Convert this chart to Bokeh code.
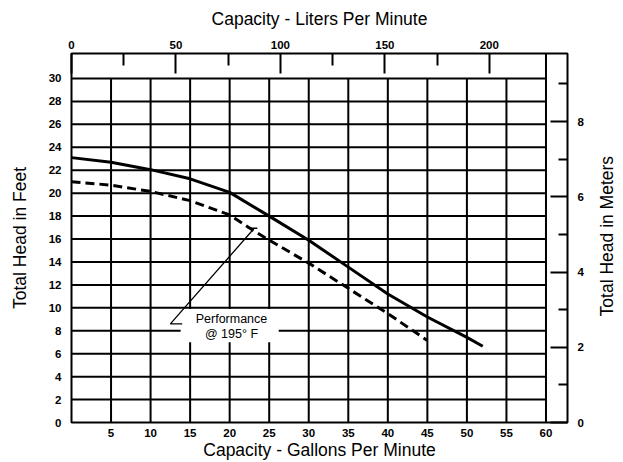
import math
from bokeh.plotting import figure
from bokeh.layouts import row
from bokeh.models import Range1d, LinearAxis, FixedTicker
from bokeh.embed import file_html
from bokeh.resources import INLINE
from bokeh.core.properties import value

# ---- data ----
gpm_ticks = [5, 10, 15, 20, 25, 30, 35, 40, 45, 50, 55, 60]
ft_ticks = [0, 2, 4, 6, 8, 10, 12, 14, 16, 18, 20, 22, 24, 26, 28, 30]
lpm_ticks = [0, 50, 100, 150, 200]
lpm_minor = [25, 75, 125, 175]
m_ticks = [0, 2, 4, 6, 8]
m_minor = [1, 3, 5, 7, 9]
grid_gpm = [5, 10, 15, 20, 25, 30, 35, 40, 45, 50, 55]
grid_ft = [2, 4, 6, 8, 10, 12, 14, 16, 18, 20, 22, 24, 26, 28, 30]

solid_gpm = [0, 5, 10, 15, 20, 25, 30, 35, 40, 45, 50, 52]
solid_ft = [23.1, 22.7, 22.05, 21.25, 20.07, 18.0, 15.9, 13.55, 11.2, 9.2, 7.42, 6.65]

dash_gpm = [0, 5, 10, 15, 20, 23, 25, 30, 35, 40, 45]
dash_ft = [21.0, 20.7, 20.15, 19.35, 18.1, 16.75, 15.9, 13.9, 11.7, 9.5, 7.15]

note_lines = ["Performance", "@ 195\u00b0 F"]
note_x = [20.23, 20.23]
note_y = [9.05, 7.74]
note_box = dict(left=[13.8], right=[26.2], bottom=[7.0], top=[9.9])
leader_x = [14.0, 12.5, 23.0]
leader_y = [8.6, 8.6, 16.85]
tip_x = [22.3, 23.5]
tip_y = [16.95, 16.95]

right_title = ["Total Head in Meters"]

GAL_TO_L = 3.7854
FT_TO_M = 0.3048
X_END = 62.72
Y_END = 32.18
FONT = "Liberation Sans"

p = figure(width=590, height=462, output_backend="svg", toolbar_location=None,
           x_range=Range1d(0, X_END), y_range=Range1d(0, Y_END),
           min_border_left=71, min_border_right=23, min_border_top=53, min_border_bottom=40)
p.extra_x_ranges = {"lpm": Range1d(0, X_END * GAL_TO_L)}
p.extra_y_ranges = {"m": Range1d(0, Y_END * FT_TO_M)}

p.background_fill_color = "white"
p.border_fill_color = "white"
p.outline_line_color = "black"
p.outline_line_width = 2
p.xgrid.visible = False
p.ygrid.visible = False


def style_axis(ax, title, bold=True):
    ax.axis_label = title
    ax.axis_line_color = None
    ax.major_tick_line_color = "black"
    ax.minor_tick_line_color = "black"
    ax.major_tick_line_width = 2
    ax.minor_tick_line_width = 2
    ax.major_tick_in = 0
    ax.major_tick_out = 0
    ax.minor_tick_in = 0
    ax.minor_tick_out = 0
    ax.major_label_text_font = FONT
    ax.major_label_text_font_size = "11.5px"
    ax.major_label_text_font_style = "bold" if bold else "normal"
    ax.major_label_text_color = "black"
    ax.axis_label_text_font = FONT
    ax.axis_label_text_font_size = "17.5px"
    ax.axis_label_text_font_style = "normal"
    ax.axis_label_text_color = "black"


xb = p.xaxis[0]
style_axis(xb, "Capacity - Gallons Per Minute")
xb.ticker = FixedTicker(ticks=gpm_ticks)
xb.major_label_standoff = 6
xb.axis_label_standoff = 0

yl = p.yaxis[0]
style_axis(yl, "Total Head in Feet")
yl.ticker = FixedTicker(ticks=ft_ticks)
yl.major_label_standoff = 10
yl.axis_label_standoff = 16

xt = LinearAxis(x_range_name="lpm")
style_axis(xt, "Capacity - Liters Per Minute")
xt.ticker = FixedTicker(ticks=lpm_ticks, minor_ticks=lpm_minor)
xt.major_tick_in = 20
xt.minor_tick_in = 12
xt.major_label_standoff = 5
xt.axis_label_standoff = 9
p.add_layout(xt, "above")

yr = LinearAxis(y_range_name="m")
style_axis(yr, None)
yr.ticker = FixedTicker(ticks=m_ticks, minor_ticks=m_minor)
yr.major_tick_in = 17
yr.minor_tick_in = 9
yr.major_label_standoff = 10
p.add_layout(yr, "right")

# grid
p.segment(x0=grid_gpm, y0=[ft_ticks[0]] * len(grid_gpm), x1=grid_gpm, y1=[ft_ticks[-1]] * len(grid_gpm),
          line_color="black", line_width=2)
p.segment(x0=[0] * len(grid_ft), y0=grid_ft, x1=[gpm_ticks[-1]] * len(grid_ft), y1=grid_ft,
          line_color="black", line_width=2)
p.segment(x0=[gpm_ticks[-1]], y0=[0], x1=[gpm_ticks[-1]], y1=[Y_END], line_color="black", line_width=2)

# note box
p.quad(**note_box, fill_color="white", line_color=None)

# curves
p.line(solid_gpm, solid_ft, line_color="black", line_width=3)
p.line(dash_gpm, dash_ft, line_color="black", line_width=3, line_dash="9 5")

# leader
p.line(leader_x, leader_y, line_color="black", line_width=1.3)
p.line(tip_x, tip_y, line_color="black", line_width=1.5)
p.text(x=note_x, y=note_y, text=note_lines, text_align="center", text_baseline="middle",
       text_font=value(FONT), text_font_size="12.5px", text_color="black")

# right-hand title strip (text reads bottom to top)
t = figure(width=33, height=462, output_backend="svg", toolbar_location=None,
           x_range=Range1d(0, 1), y_range=Range1d(0, 1),
           x_axis_type=None, y_axis_type=None,
           min_border_left=0, min_border_right=0, min_border_top=0, min_border_bottom=0)
t.outline_line_color = None
t.xgrid.visible = False
t.ygrid.visible = False
t.background_fill_color = "white"
t.border_fill_color = "white"
t.text(x=[0.5], y=[0.505], text=right_title, angle=math.pi / 2, text_align="center",
       text_baseline="middle", text_font=value(FONT), text_font_size="17.5px", text_color="black")

layout = row(p, t)
open("out.html", "w").write(file_html(layout, INLINE))
